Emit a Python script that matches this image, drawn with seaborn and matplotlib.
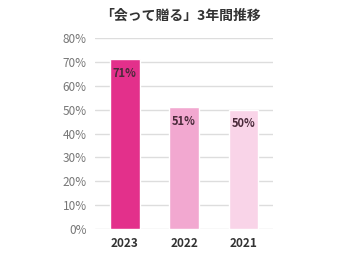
import matplotlib
matplotlib.use("Agg")
import matplotlib.pyplot as plt
import seaborn as sns
import pandas as pd

years = ["2023", "2022", "2021"]
values = [71, 51, 50]
colors = ["#E3308B", "#F2A8D0", "#F9D4E8"]
title = "「会って贈る」3年間推移"

sns.set_theme(style="white")
plt.rcParams['font.family'] = ['Noto Sans CJK JP', 'DejaVu Sans']

df = pd.DataFrame({"year": years, "value": values})

fig = plt.figure(figsize=(3.47, 2.60), dpi=100)
ax = fig.add_axes([0.274, 0.119, 0.513, 0.735])
sns.barplot(data=df, x="year", y="value", hue="year", palette=colors,
            saturation=1, width=0.5, legend=False, ax=ax, zorder=3)
ax.set_ylim(0, 80)
ax.set_xlim(-0.5, 2.5)
ax.set_yticks(range(0, 81, 10))
ax.set_yticklabels([f"{v}%" for v in range(0, 81, 10)], color="#777777", fontsize=8.5)
ax.yaxis.grid(True, color="#DDDDDD", linewidth=1, zorder=0)
ax.set_axisbelow(True)
for s in ax.spines.values():
    s.set_visible(False)
ax.tick_params(axis="both", length=0, pad=6)
for lbl in ax.get_xticklabels():
    lbl.set_fontweight("bold")
    lbl.set_color("#333333")
    lbl.set_fontsize(8.5)
ax.set_xlabel("")
ax.set_ylabel("")
for i, v in enumerate(values):
    ax.text(i, v - 6, f"{v}%", ha="center", va="center", fontsize=8,
            fontweight="bold", color="#4A2A3A", zorder=4)
fig.text(0.52, 0.94, title, ha="center", va="center", fontsize=10,
         fontweight="bold", color="#333333")
fig.savefig("out.png", dpi=100)
